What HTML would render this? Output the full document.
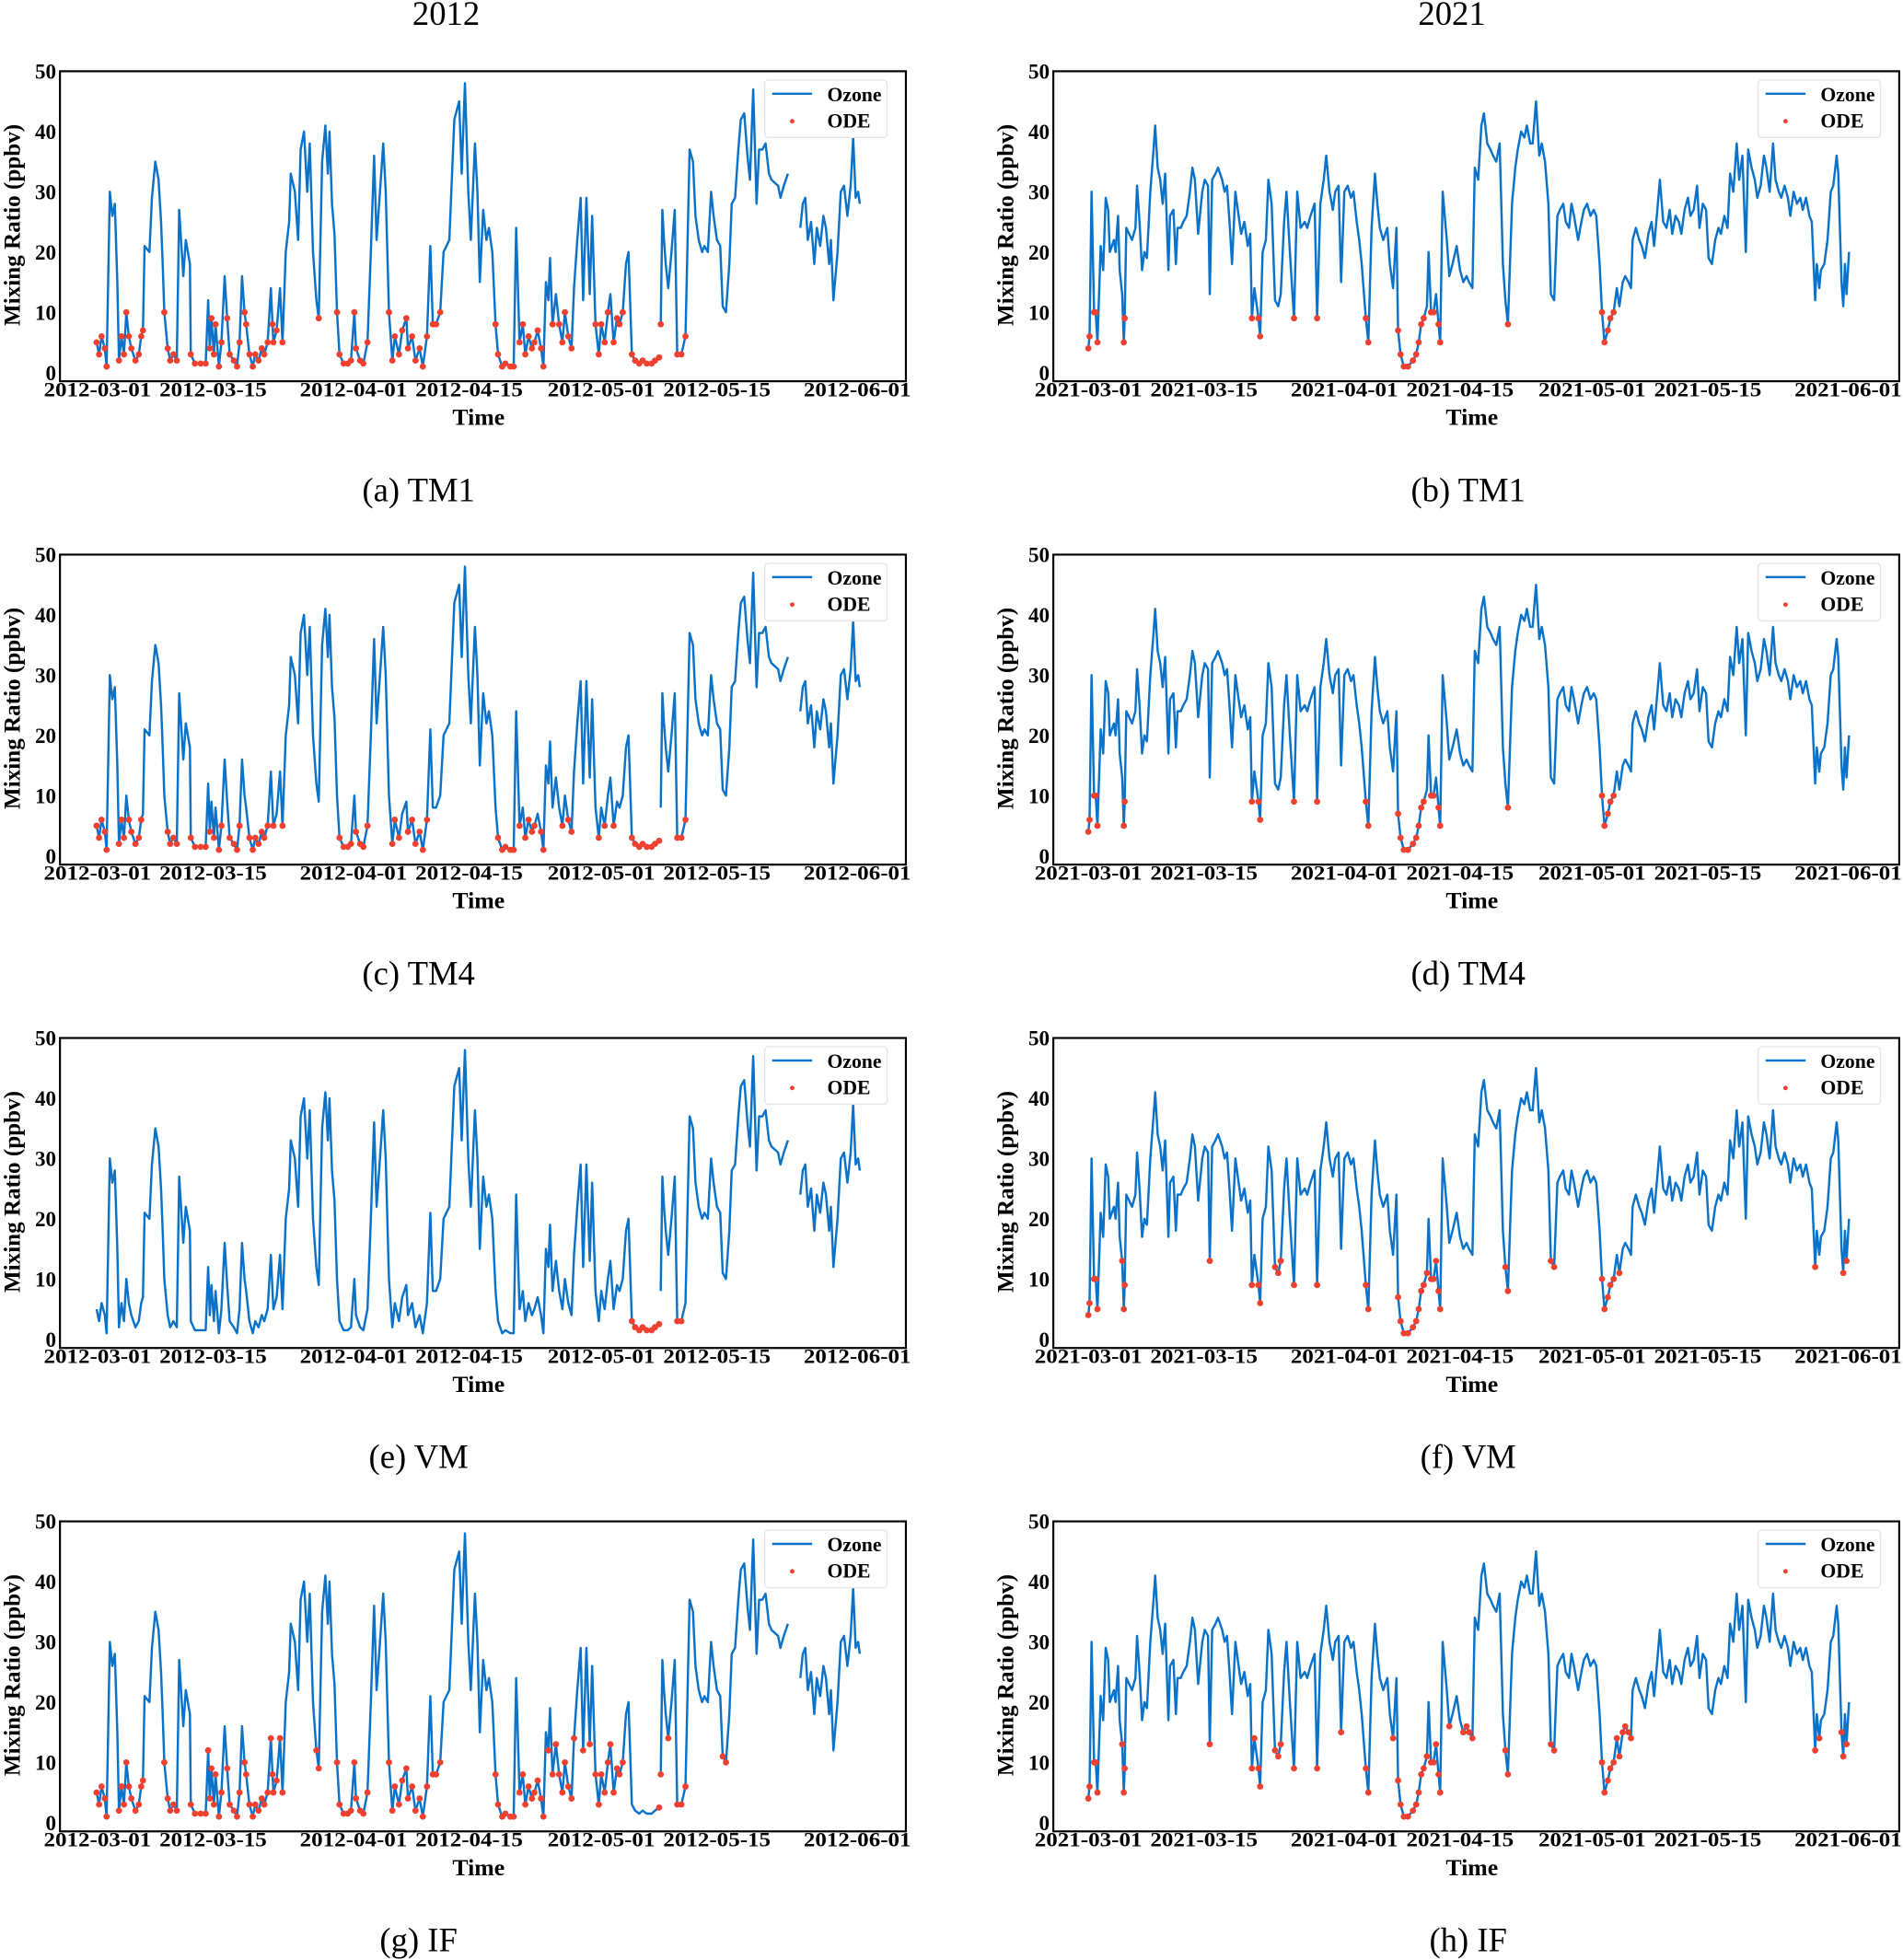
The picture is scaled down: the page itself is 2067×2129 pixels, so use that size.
<!DOCTYPE html>
<html><head><meta charset="utf-8">
<style>
html,body{margin:0;padding:0;background:#fff;}
svg{display:block;}
text{font-family:"Liberation Serif",serif;fill:#000;}
</style></head>
<body>
<svg id="fig" width="2067" height="2129" viewBox="0 0 1523 1568" preserveAspectRatio="none" xmlns="http://www.w3.org/2000/svg">
<text x="357" y="20" font-size="27" text-anchor="middle">2012</text>
<text x="1162" y="20" font-size="27" text-anchor="middle">2021</text>
</svg>
<script>
// ---- data ----
const days2012 = [-0.1,0.2,0.5,0.9,1.1,1.5,1.8,2.1,2.4,2.6,2.9,3.2,3.5,3.8,4.1,4.6,5,5.3,5.5,5.7,6.3,6.6,7,7.4,7.7,7.9,8.1,8.5,8.8,9.2,9.6,9.9,10.4,10.7,11.2,11.3,11.8,12.5,13.1,13.4,13.6,13.8,14.1,14.3,14.7,15,15.4,15.7,16,16.5,16.9,17.2,17.5,17.8,18,18.4,18.8,19.1,19.5,19.9,20.2,20.6,21,21.2,21.3,21.7,22.1,22.4,22.8,23.2,23.4,23.9,24.3,24.6,25,25.4,25.7,26.1,26.5,26.8,27.2,27.6,27.9,28.1,28.4,28.7,29,29.3,29.8,30.3,30.7,31.1,31.3,31.8,32.2,32.7,33.1,33.5,33.8,34.2,34.6,34.9,35.3,35.7,36,36.5,36.9,37.4,37.6,38.1,38.5,39,39.4,39.9,40.3,40.6,41,41.5,41.9,42.6,43.2,43.8,44.1,44.5,44.9,45.2,45.7,46,46.3,46.7,47.1,47.4,47.8,48.2,48.5,49,49.4,50,50.4,50.7,51.1,51.5,51.8,52.2,52.6,52.9,53.3,53.7,54,54.3,54.6,54.8,55.1,55.5,55.9,56.3,56.6,57,57.4,57.7,58.1,58.5,58.8,59.2,59.6,59.9,60.3,60.7,61,61.4,61.8,62.1,62.5,62.9,63.2,63.6,64,64.3,64.7,65.1,65.6,66,66.5,67.1,67.5,68,68.1,68.2,68.4,68.6,68.8,69.1,69.5,69.9,70.2,70.7,71.2,71.7,72.1,72.4,72.8,73.2,73.5,73.9,74.3,74.6,75,75.4,75.7,76.1,76.5,76.8,77.2,77.6,77.9,78.3,78.7,79,79.4,79.8,80.1,80.5,80.9,81.3,81.6,82.4,82.7,83.1,83.6,84,85.1,85.4,85.7,86,86.4,86.8,87.1,87.5,87.9,88.2,88.6,88.8,89.1,89.6,90,90.4,90.8,91.2,91.5,91.8,92.1,92.3];
const ozone2012 = [5,3,6,4,1,30,26,28,15,2,6,3,10,6,4,2,3,6,7,21,20,29,35,32,25,18,10,4,2,3,2,27,16,22,18,3,1.5,1.5,1.5,12,4,9,3,8,1,5,16,9,3,2,1,5,16,10,8,3,1,3,2,4,3,5,14,8,5,7,14,5,20,25,33,30,22,37,40,30,38,20,12,9,35,41,33,40,28,23,10,3,1.5,1.5,2,10,4,2,1.5,5,20,36,22,30,38,30,10,2,6,3,7,9,4,6,2,4,1,6,21,8,8,10,20,22,42,45,33,48,30,22,38,30,15,27,22,24,20,8,3,1,1.5,1,1,24,5,8,3,6,4,5,7,4,1,15,12,19,8,13,8,5,10,6,4,14,22,29,12,29,13,26,8,3,8,5,10,13,5,9,8,10,18,20,3,2,1.5,2,1.5,1.5,2,2.5,null,8,27,22,18,14,20,27,3,3,6,37,35,26,22,20,21,20,30,26,22,21,11,10,18,28,29,37,42,43,36,32,47,28,37,37,38,33,32,31,29,31,33,null,24,28,29,22,25,18,24,21,26,24,18,22,12,20,30,31,26,31,39,29,30,28];
const days2021 = [0,0.15,0.4,0.7,0.9,1.1,1.5,1.8,2.1,2.4,2.6,3.1,3.3,3.6,3.8,4.1,4.3,4.4,4.6,5.3,5.7,5.9,6.2,6.5,6.8,7.1,7.5,7.9,8.1,8.4,8.7,9,9.3,9.7,9.9,10.3,10.6,10.8,11.2,11.5,11.9,12.3,12.6,12.9,13.3,13.8,14.1,14.5,14.7,15,15.4,15.7,16.2,16.5,16.8,17.1,17.4,17.8,18.2,18.5,18.9,19.3,19.6,19.8,20.1,20.6,20.8,21.1,21.5,21.8,22.2,22.6,23,23.3,23.7,24,24.4,24.9,25.3,25.7,26.2,26.5,26.9,27.4,27.7,28.1,28.5,28.8,29.2,29.6,29.9,30.3,30.6,31,31.4,31.8,32.1,32.5,32.8,33.1,33.6,33.9,34.3,34.7,35,35.3,35.7,36.2,36.5,36.9,37.3,37.5,37.8,38.2,38.7,39.3,39.7,40,40.3,40.6,41,41.2,41.5,41.8,42.1,42.4,42.6,42.9,43.4,43.7,44.1,44.6,45,45.4,45.8,46.1,46.5,46.8,47.2,47.6,47.9,48.3,48.7,49,49.4,49.8,50.2,50.5,50.8,51.3,51.7,52,52.4,52.8,53.1,53.5,53.8,54.2,54.6,54.9,55.3,55.7,56,56.4,56.8,57.1,57.5,57.8,58.2,58.5,58.8,59.3,59.7,60,60.4,60.8,61.2,61.5,61.9,62.2,62.5,62.9,63.2,63.6,64,64.3,64.7,65,65.4,65.7,65.9,66.3,66.7,67,67.4,67.8,68.2,68.5,68.9,69.2,69.6,70,70.4,70.7,71.1,71.5,71.8,72.2,72.6,72.9,73.3,73.7,74,74.4,74.8,75.1,75.5,75.9,76.3,76.6,77,77.4,77.7,78.1,78.5,78.8,79.2,79.6,79.9,80.3,80.7,81,81.4,81.8,82.1,82.5,82.9,83.2,83.6,83.9,84.3,84.7,85,85.4,85.8,86.2,86.5,86.9,87.3,87.6,88,88.2,88.5,88.7,89.1,89.5,89.9,90.2,90.6,90.8,91.2,91.4,91.6,91.8,92.1];
const ozone2021 = [4,6,30,10,10,5,21,17,29,27,20,22,20,26,17,13,5,9,24,22,24,31,25,17,20,19,30,37,41,34,32,28,33,17,26,27,18,24,24,25,26,30,34,32,23,30,32,31,13,32,33,34,32,30,31,25,18,30,26,23,25,21,23,9,14,9,6,20,22,32,28,12,11,13,25,30,20,9,30,24,25,24,26,28,9,28,32,36,30,27,30,31,15,30,31,29,30,25,22,18,9,5,24,33,28,24,22,24,18,14,24,7,3,1,1,2,3,5,8,9,11,20,10,10,13,8,5,30,22,16,18,21,17,15,16,15,14,34,32,41,43,38,37,36,35,38,18,12,8,28,34,37,40,39,41,38,38,45,36,38,35,28,13,12,26,27,28,25,24,28,26,22,25,27,28,26,27,26,18,10,5,7,9,10,14,11,15,16,15,14,22,24,22,21,19,23,25,21,27,32,25,24,27,23,26,25,23,27,29,26,27,31,24,28,27,19,18,22,24,23,26,24,33,30,38,32,36,20,37,34,32,29,31,36,34,30,38,32,30,29,31,29,26,30,28,29,27,29,26,25,12,18,14,17,18,22,30,31,36,33,15,11,18,13,20];
const xTicks2012 = ["2012-03-01","2012-03-15","2012-04-01","2012-04-15","2012-05-01","2012-05-15","2012-06-01"];
const xTicks2021 = ["2021-03-01","2021-03-15","2021-04-01","2021-04-15","2021-05-01","2021-05-15","2021-06-01"];
const xTickDays = [0,14,31,45,61,75,92];
const yTicks = [0,10,20,30,40,50];
const methods = ["TM1","TM4","VM","IF"];
const captions2012 = ["(a) TM1","(c) TM4","(e) VM","(g) IF"];
const captions2021 = ["(b) TM1","(d) TM4","(f) VM","(h) IF"];
// ODE thresholds (ppbv) and day windows per method
const odeThreshold2012 = [10,6,3,14];
const odeWindows2012 = [[[-1,71.5]],[[-1,71.5]],[[64.5,71.5]],[[-1,64.5],[68,79]]];
const odeThreshold2021 = [10,10,13,16];
const odeWindows2021 = [[[-1,93]],[[-1,93]],[[-1,93]],[[-1,93]]];

// ---- layout ----
const NS="http://www.w3.org/2000/svg";
const svg=document.getElementById('fig');
const PW=677, PH=248, ROW=386.7, TOP0=57;
const cols=[{left:48,day0:78},{left:843,day0:871}];
const pxPerDay=6.61;
function mk(tag,attrs,parent){const e=document.createElementNS(NS,tag);for(const k in attrs)e.setAttribute(k,attrs[k]);(parent||svg).appendChild(e);return e;}

function drawPanel(ci,ri,days,vals,thr,wins,ticks,caption,year){
  const c=cols[ci], top=TOP0+ri*ROW;
  const xs=d=>c.day0+d*pxPerDay;
  const ys=v=>top+(50-v)*4.82;
  const g=mk('g',{});
  
  
  let dstr='',pen=false;
  for(let i=0;i<days.length;i++){
    if(vals[i]===null){pen=false;continue;}
    dstr+=(pen?'L':'M')+xs(days[i]).toFixed(1)+' '+ys(vals[i]).toFixed(1);pen=true;
  }
  const line=mk('path',{d:dstr,fill:'none',stroke:'#0a72c9','stroke-width':1.8,'stroke-linejoin':'round'},g);
  
  
  for(let i=0;i<days.length;i++){
    const v=vals[i]; if(v===null||v>thr)continue;
    if(!wins.some(w=>days[i]>=w[0]&&days[i]<=w[1]))continue;
    const dot=mk('circle',{cx:xs(days[i]).toFixed(1),cy:ys(v).toFixed(1),r:2.5,fill:'#f04030'},g);
    
    
  }
  const fr=mk('rect',{x:c.left,y:top,width:PW,height:PH,fill:'none',stroke:'#000','stroke-width':1.6},g);
  
  
  yTicks.forEach(t=>{
    const tx=mk('text',{x:c.left-3,y:ys(t)+6,'font-size':17,'font-weight':'bold','text-anchor':'end'},g);
    tx.textContent=t;
    
    
  });
  ticks.forEach((t,i)=>{
    const tx=mk('text',{x:xs(xTickDays[i]),y:top+PH+12,'font-size':16.5,'font-weight':'bold','text-anchor':'middle',textLength:86,lengthAdjust:'spacingAndGlyphs'},g);
    tx.textContent=t;
    
    
  });
  const xl=mk('text',{x:c.left+335,y:top+PH+35,'font-size':19,'font-weight':'bold','text-anchor':'middle'},g);
  xl.textContent='Time';
  
  
  const yl=mk('text',{x:0,y:0,'font-size':18.5,'font-weight':'bold','text-anchor':'middle',transform:`translate(${c.left-32},${top+123}) rotate(-90)`},g);
  yl.textContent='Mixing Ratio (ppbv)';
  
  
  const lx=c.left+PW-113, ly=top+7;
  const lg=mk('g',{},g);
  
  
  mk('rect',{x:lx,y:ly,width:98,height:46,rx:3,fill:'#fff',stroke:'#e6e6e6','stroke-width':1},lg);
  mk('line',{x1:lx+6,y1:ly+11,x2:lx+38,y2:ly+11,stroke:'#0a72c9','stroke-width':1.8},lg);
  mk('circle',{cx:lx+22,cy:ly+33,r:1.8,fill:'#f04030'},lg);
  const t1=mk('text',{x:lx+50,y:ly+17,'font-size':16,'font-weight':'bold'},lg);t1.textContent='Ozone';
  
  
  const t2=mk('text',{x:lx+50,y:ly+38,'font-size':16,'font-weight':'bold'},lg);t2.textContent='ODE';
  
  
  const cp=mk('text',{x:c.left+(ci===0?287:332),y:top+PH+96,'font-size':27,'text-anchor':'middle'},g);
  cp.textContent=caption;
  
  
}
for(let r=0;r<4;r++){
  drawPanel(0,r,days2012,ozone2012,odeThreshold2012[r],odeWindows2012[r],xTicks2012,captions2012[r],2012);
  drawPanel(1,r,days2021,ozone2021,odeThreshold2021[r],odeWindows2021[r],xTicks2021,captions2021[r],2021);
}
</script>
</body></html>
